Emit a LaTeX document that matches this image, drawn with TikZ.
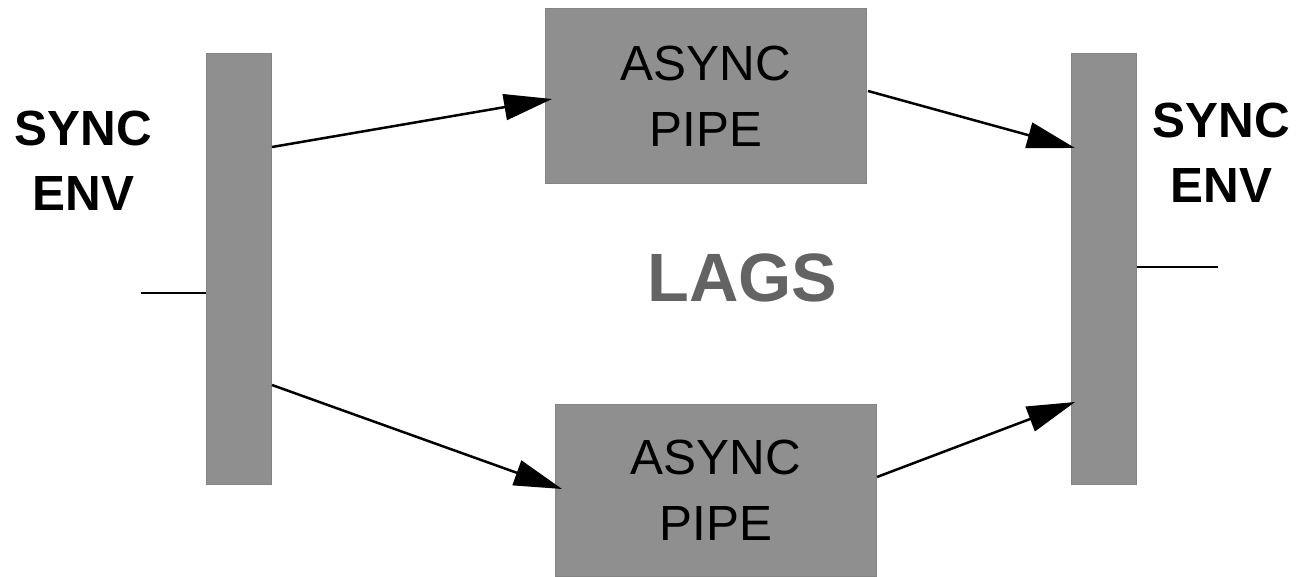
\documentclass[tikz,border=0pt]{standalone}
\usepackage{fontspec}
\setmainfont{Liberation Sans}
\usetikzlibrary{arrows.meta,calc}

\definecolor{blockfill}{RGB}{143,143,143}
\definecolor{blockedge}{RGB}{132,132,132}
\definecolor{lagsgray}{RGB}{99,99,99}

\tikzset{
  block/.style={draw=blockedge, line width=0.5pt, fill=blockfill,
    rectangle, inner sep=0pt, anchor=north west},
  syncbar/.style={block, minimum width=32.5pt, minimum height=215.5pt},
  pipebox/.style={block, minimum width=160.5pt, align=center,
    font=\fontsize{24.7}{33}\selectfont},
  envlabel/.style={inner sep=0pt, align=center,
    font=\fontsize{24.7}{32.5}\selectfont\bfseries},
  flow/.style={line width=1.25pt, -{Triangle[length=24pt, width=13pt]}},
  stub/.style={line width=1.15pt}
}

\begin{document}
\begin{tikzpicture}[x=0.5pt, y=-0.5pt]
  \useasboundingbox (0,0) rectangle (1299,577);

  % synchronous environment bars
  \node[syncbar] (L) at (206,53) {};
  \node[syncbar] (R) at (1071,53) {};

  % asynchronous pipes
  \node[pipebox, minimum height=87.5pt] (T) at (545,8) {ASYNC\\PIPE};
  \node[pipebox, minimum height=86pt] (B) at (555,404) {ASYNC\\PIPE};

  % labels
  \node[envlabel] (envl) at (83.5,161) {SYNC\\ENV};
  \node[envlabel] (envr) at (1221.5,152.5) {SYNC\\ENV};
  \node[inner sep=0pt, text=lagsgray,
        font=\fontsize{34.2}{40}\selectfont\bfseries] (lags) at (742.5,277.5) {LAGS};

  % flows between bars and pipes
  \draw[flow] ($(L.north east)+(0,94)$)  -- ($(T.north west)+(7,91)$);
  \draw[flow] ($(L.north east)+(0,332)$) -- ($(B.north west)+(7,85)$);
  \draw[flow] ($(T.north east)+(1,83)$)  -- ($(R.north west)+(4,95)$);
  \draw[flow] ($(B.north east)+(0,73)$)  -- ($(R.north west)+(4,349)$);

  % input and output stubs
  \coordinate (inL) at (141,293);
  \coordinate (outR) at (1218,267);
  \draw[stub] (inL) -- (inL -| L.west);
  \draw[stub] (outR -| R.east) -- (outR);
\end{tikzpicture}
\end{document}
